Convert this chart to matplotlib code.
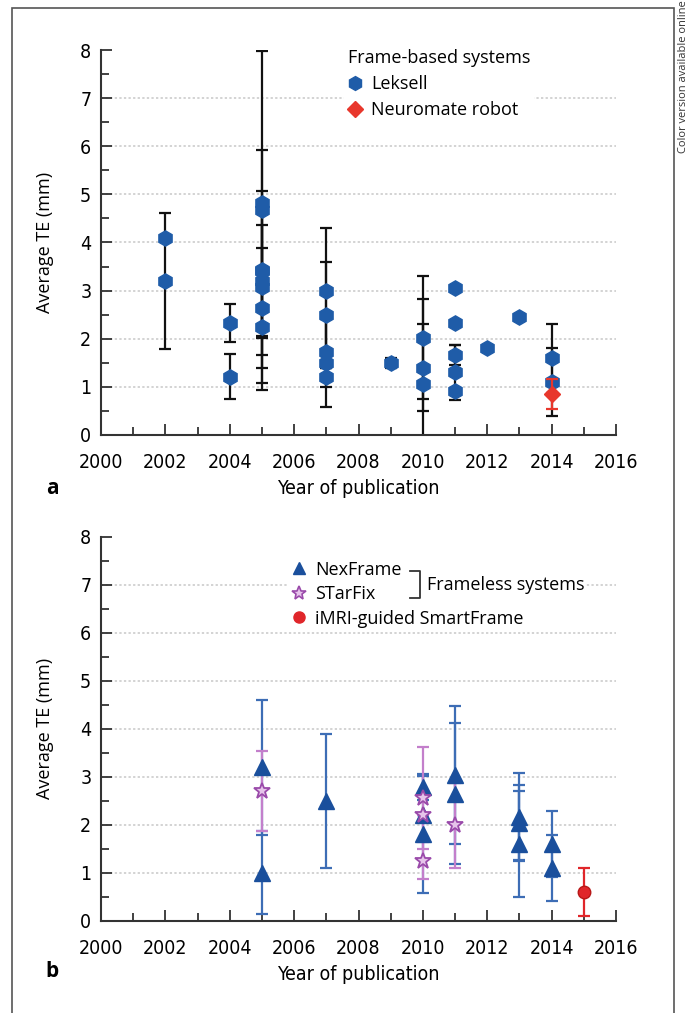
import numpy as np
import matplotlib.pyplot as plt
from matplotlib.lines import Line2D
from matplotlib.patches import Rectangle
from matplotlib.ticker import MultipleLocator
from matplotlib.font_manager import FontProperties

plt.rcParams['font.family'] = ['Open Sans', 'DejaVu Sans']
narrow = FontProperties(family='DejaVu Sans', stretch='condensed', size=14)

# panel a: frame-based systems
leksell_year = [2002, 2002, 2004, 2004,
                2005, 2005, 2005, 2005, 2005, 2005, 2005, 2005,
                2007, 2007, 2007, 2007, 2007,
                2009, 2010, 2010, 2010,
                2011, 2011, 2011, 2011, 2011,
                2012, 2013, 2014, 2014]
leksell_te = [4.10, 3.20, 2.33, 1.21,
              4.82, 4.68, 3.43, 3.40, 3.19, 3.08, 2.64, 2.24,
              3.00, 2.49, 1.73, 1.50, 1.20,
              1.50, 2.02, 1.40, 1.06,
              3.05, 2.32, 1.67, 1.30, 0.92,
              1.80, 2.45, 1.59, 1.10]
leksell_err = [0, 1.41, 0.40, 0.47,
               3.15, 0, 2.50, 1.35, 1.17, 2.00, 1.25, 0,
               1.30, 1.10, 0, 0.92, 0.20,
               0.10, 1.28, 0.90, 1.76,
               0, 0, 0.21, 0.57, 0,
               0, 0, 0.71, 0.70]
neuro_year = [2014]
neuro_te = [0.85]
neuro_err = [0.31]

# panel b: frameless systems
nex_year = [2005, 2005, 2007, 2010, 2010, 2010, 2011, 2011,
            2013, 2013, 2013, 2014, 2014]
nex_te = [3.19, 1.00, 2.49, 2.79, 2.20, 1.80, 3.03, 2.64,
          2.16, 2.04, 1.59, 1.59, 1.10]
nex_err = [1.40, 0.87, 1.40, 0.27, 0, 1.22, 1.44, 1.47,
           0.92, 0.78, 1.10, 0.69, 0.69]
star_year = [2005, 2010, 2010, 2010, 2011]
star_te = [2.70, 2.56, 2.20, 1.25, 1.98]
star_err = [0.84, 1.06, 0, 0.39, 0.88]
imri_year = [2015]
imri_te = [0.60]
imri_err = [0.50]

fig = plt.figure(figsize=(6.89, 10.13), dpi=100)
W, H = 689, 1013
ax1 = fig.add_axes([101 / W, 1 - 435 / H, 515 / W, 385 / H])
ax2 = fig.add_axes([101 / W, 1 - 920.5 / H, 515 / W, 384 / H])


def style_axes(ax, label, label_y):
    ax.set_xlim(2000, 2016)
    ax.set_ylim(0, 8)
    ax.xaxis.set_major_locator(MultipleLocator(2))
    ax.xaxis.set_minor_locator(MultipleLocator(1))
    ax.yaxis.set_major_locator(MultipleLocator(1))
    ax.yaxis.set_minor_locator(MultipleLocator(0.5))
    for s in ['top', 'right']:
        ax.spines[s].set_visible(False)
    for s in ['left', 'bottom']:
        ax.spines[s].set_color('#333333')
        ax.spines[s].set_linewidth(1.5)
    ax.tick_params(which='both', direction='in', color='#333333', width=1.3)
    ax.tick_params(which='major', length=8)
    ax.tick_params(which='minor', length=6)
    ax.tick_params(axis='x', which='major', pad=13)
    ax.tick_params(axis='y', which='major', pad=7)
    ax.set_xticks(ax.get_xticks())
    ax.set_xticklabels([f'{int(v)}' for v in ax.get_xticks()], fontproperties=narrow)
    ax.set_yticks(ax.get_yticks())
    ax.set_yticklabels([f'{int(v)}' for v in ax.get_yticks()], fontproperties=narrow)
    ax.set_xlim(2000, 2016)
    ax.set_ylim(0, 8)
    for yv in range(1, 8):
        ax.axhline(yv, color='#c8c8c8', ls=(0, (1.5, 1.5)), lw=1.1, zorder=0)
    ax.set_xlabel('Year of publication', fontproperties=narrow, labelpad=5)
    ax.set_ylabel('Average TE (mm)', fontsize=13, labelpad=19)
    ax.text(-0.095, label_y, label, transform=ax.transAxes, fontsize=15,
            fontweight='bold', ha='center', va='center')


style_axes(ax1, 'a', -0.138)
style_axes(ax2, 'b', -0.134)

# panel a
ax1.errorbar(leksell_year, leksell_te, yerr=leksell_err, fmt='none',
             ecolor='#111111', elinewidth=1.6, capsize=4, capthick=1.6, zorder=2)
ax1.plot(leksell_year, leksell_te, 'h', color='#1f5ca8', ms=11, mec='#1f5ca8', zorder=3, ls='none')
ax1.errorbar(neuro_year, neuro_te, yerr=neuro_err, fmt='none',
             ecolor='#e8372c', elinewidth=1.6, capsize=4, capthick=1.6, zorder=4)
ax1.plot(neuro_year, neuro_te, 'D', color='#e8372c', ms=8, zorder=5, ls='none')

h_lek = Line2D([], [], marker='h', color='#1f5ca8', ms=10, ls='none')
h_neu = Line2D([], [], marker='D', color='#e8372c', ms=8, ls='none')
ax1.legend([h_lek, h_neu], ['Leksell', 'Neuromate robot'],
           title='Frame-based systems', title_fontsize=13, fontsize=13,
           loc='upper left', bbox_to_anchor=(0.455, 1.035),
           handlelength=0.8, handletextpad=0.5, labelspacing=0.45,
           borderpad=0.2, frameon=True, facecolor='white',
           edgecolor='none', framealpha=1, alignment='left')

# panel b
ax2.errorbar(nex_year, nex_te, yerr=nex_err, fmt='none',
             ecolor='#3d6db5', elinewidth=1.6, capsize=4, capthick=1.6, zorder=2)
ax2.errorbar(star_year, star_te, yerr=star_err, fmt='none',
             ecolor='#c37fcb', elinewidth=1.6, capsize=4, capthick=1.6, zorder=3)
ax2.plot(nex_year, nex_te, '^', color='#1a4f9c', ms=11, zorder=4, ls='none')
ax2.plot(star_year, star_te, '*', mfc='#e6c4ea', mec='#9a4aaa', mew=1.3,
         ms=12, zorder=5, ls='none')
ax2.errorbar(imri_year, imri_te, yerr=imri_err, fmt='none',
             ecolor='#e0262a', elinewidth=1.6, capsize=4, capthick=1.6, zorder=4)
ax2.plot(imri_year, imri_te, 'o', color='#e0262a', mec='#b81818', ms=9, zorder=5, ls='none')

h_nex = Line2D([], [], marker='^', color='#1a4f9c', ms=9, ls='none')
h_star = Line2D([], [], marker='*', mfc='#e6c4ea', mec='#9a4aaa', mew=1.2, ms=10, ls='none')
h_imri = Line2D([], [], marker='o', color='#e0262a', ms=8, ls='none')
ax2.legend([h_nex, h_star, h_imri], ['NexFrame', 'STarFix', 'iMRI-guided SmartFrame'],
           fontsize=13, loc='upper left', bbox_to_anchor=(0.345, 0.97),
           handlelength=0.8, handletextpad=0.5, labelspacing=0.36,
           borderpad=0.2, frameon=True, facecolor='white',
           edgecolor='none', framealpha=1)

# bracket for frameless systems
ax2.add_line(Line2D([0.600, 0.619, 0.619, 0.600], [0.910, 0.910, 0.840, 0.840],
                    transform=ax2.transAxes, color='#333333', lw=1.3, zorder=6))
ax2.text(0.633, 0.875, 'Frameless systems', transform=ax2.transAxes, fontsize=13,
         va='center', ha='left', zorder=6,
         bbox=dict(facecolor='white', edgecolor='none', pad=1))

# figure frame and side note
fig.patches.append(Rectangle((12 / W, -0.02), (674 - 12) / W, 1 - 8 / H + 0.02,
                             transform=fig.transFigure, fill=False,
                             edgecolor='#555555', lw=1.2))
fig.text(684 / W, 1.0, 'Color version available online', rotation=90,
         ha='center', va='top', fontsize=8, color='#333333')

fig.savefig('out.png', dpi=100)
